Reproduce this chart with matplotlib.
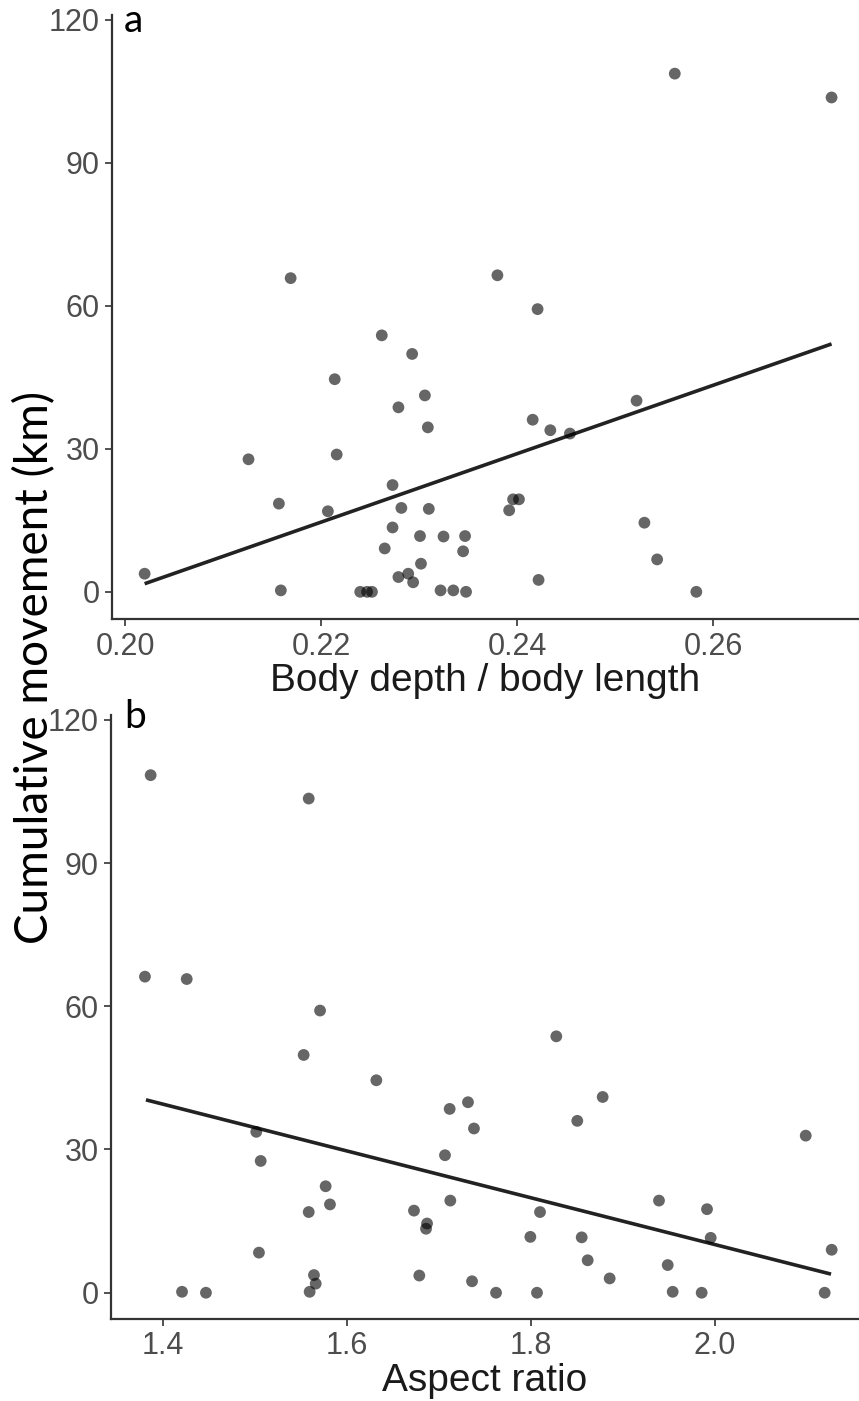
import matplotlib
matplotlib.use("Agg")
import matplotlib.pyplot as plt

# ---------------- data ----------------
# Panel a: body depth / body length vs cumulative movement (km)
body_ratio = [0.2169, 0.2561, 0.2721, 0.2380, 0.2421,
              0.2262, 0.2293, 0.2214, 0.2306, 0.2279, 0.2309, 0.2216, 0.2126,
              0.2273, 0.2157, 0.2282, 0.2310, 0.2207, 0.2273, 0.2301, 0.2325,
              0.2347, 0.2345, 0.2265, 0.2302, 0.2279, 0.2289, 0.2294, 0.2020,
              0.2159, 0.2240, 0.2247, 0.2252, 0.2322, 0.2335, 0.2348,
              0.2522, 0.2416, 0.2434, 0.2454, 0.2396, 0.2402, 0.2392, 0.2530,
              0.2543, 0.2422, 0.2583]
move_a = [65.8, 108.7, 103.7, 66.4, 59.3,
          53.8, 49.9, 44.6, 41.2, 38.7, 34.5, 28.8, 27.8,
          22.4, 18.5, 17.6, 17.4, 16.9, 13.5, 11.7, 11.6,
          11.7, 8.5, 9.1, 5.9, 3.1, 3.8, 2.0, 3.8,
          0.3, 0.0, 0.0, 0.0, 0.3, 0.3, 0.0,
          40.1, 36.1, 33.9, 33.2, 19.4, 19.4, 17.1, 14.5,
          6.8, 2.5, 0.0]
fit_a_x = [0.2020, 0.2721]
fit_a_y = [1.7, 52.0]

# Panel b: aspect ratio vs cumulative movement (km)
aspect_ratio = [1.3866, 1.5584, 1.3804, 1.4258, 1.5707,
                1.5529, 1.6319, 1.7315, 1.7116, 1.7380, 1.5014, 1.7065, 1.5062,
                1.5768, 1.5815, 1.5584, 1.7123, 1.6728, 1.6870, 1.6859, 1.5043,
                1.5641, 1.5660, 1.5594, 1.6786, 1.7359, 1.4207, 1.4467,
                1.8275, 1.8779, 1.8503, 2.0986, 1.9391, 1.9913, 1.8098, 1.7993,
                1.8551, 1.9953, 2.1268, 1.8616, 1.9486, 1.8855, 1.7620, 1.8065,
                1.9540, 1.9855, 2.1192]
move_b = [108.4, 103.5, 66.2, 65.7, 59.1,
          49.8, 44.5, 39.9, 38.5, 34.4, 33.7, 28.8, 27.6,
          22.3, 18.5, 16.9, 19.3, 17.2, 14.5, 13.4, 8.4,
          3.7, 1.9, 0.2, 3.6, 2.4, 0.2, 0.0,
          53.7, 41.0, 36.0, 32.9, 19.3, 17.5, 16.9, 11.7,
          11.6, 11.5, 9.0, 6.8, 5.8, 3.0, 0.0, 0.0,
          0.2, 0.0, 0.0]
fit_b_x = [1.3815, 2.1261]
fit_b_y = [40.4, 3.9]

y_ticks = [0, 30, 60, 90, 120]
xticks_a = [0.20, 0.22, 0.24, 0.26]
xticks_b = [1.4, 1.6, 1.8, 2.0]

# ---------------- figure ----------------
W, H = 859, 1401
fig = plt.figure(figsize=(W / 100, H / 100), dpi=100)

tick_font = ['Liberation Sans', 'DejaVu Sans']
label_font = ['Lato', 'DejaVu Sans']
spine_col = '#333333'


def style(ax, xticks, xlabels, xlabel):
    for s in ['top', 'right']:
        ax.spines[s].set_visible(False)
    for s in ['left', 'bottom']:
        ax.spines[s].set_color(spine_col)
        ax.spines[s].set_linewidth(1.6)
    ax.set_yticks(y_ticks)
    ax.set_yticklabels([str(v) for v in y_ticks])
    ax.set_xticks(xticks)
    ax.set_xticklabels(xlabels)
    ax.tick_params(axis='both', direction='out', length=5, width=1.2,
                   color=spine_col, labelcolor='#4D4D4D', labelsize=22, pad=4)
    for lab in ax.get_xticklabels() + ax.get_yticklabels():
        lab.set_family(tick_font)
    ax.set_xlabel(xlabel, fontsize=28, color='#1a1a1a', family=tick_font, labelpad=1)


# Panel a
ax1 = fig.add_axes([112 / W, (H - 619) / H, (W - 112) / W, (619 - 15) / H])
ax1.scatter(body_ratio, move_a, s=72, color='black', alpha=0.6, edgecolors='none', zorder=3)
ax1.plot(fit_a_x, fit_a_y, color='#222222', lw=2.6, zorder=2, solid_capstyle='butt')
ax1.set_xlim(0.19867, 0.2749)
ax1.set_ylim(-5.7, 121)
style(ax1, xticks_a, ['0.20', '0.22', '0.24', '0.26'], 'Body depth / body length')

# Panel b
ax2 = fig.add_axes([111 / W, (H - 1319) / H, (W - 111) / W, (1319 - 715) / H])
ax2.scatter(aspect_ratio, move_b, s=72, color='black', alpha=0.6, edgecolors='none', zorder=3)
ax2.plot(fit_b_x, fit_b_y, color='#222222', lw=2.6, zorder=2, solid_capstyle='butt')
ax2.set_xlim(1.3435, 2.1565)
ax2.set_ylim(-5.5, 121)
style(ax2, xticks_b, ['1.4', '1.6', '1.8', '2.0'], 'Aspect ratio')

# panel letters
fig.text(124 / W, 1 - 3 / H, 'a', fontsize=28, family=label_font, color='black', va='top', ha='left')
fig.text(124 / W, 1 - 699 / H, 'b', fontsize=28, family=label_font, color='black', va='top', ha='left')

# shared y label
fig.text(35 / W, 1 - 667 / H, 'Cumulative movement (km)', fontsize=33, family=label_font,
         color='black', rotation=90, va='center', ha='center')

fig.savefig('out.png', dpi=100)
